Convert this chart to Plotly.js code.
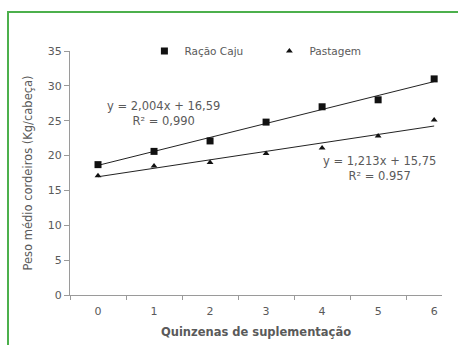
<!DOCTYPE html>
<html>
<head>
<meta charset="utf-8">
<script src="https://cdn.plot.ly/plotly-3.0.1.min.js"></script>
<style>
  html, body { margin: 0; padding: 0; background: #fff; }
  #frame { position: absolute; left: 7px; top: 11px; width: 520px; height: 420px; border: 2px solid #4cb04c; box-sizing: border-box; }
  #chart { position: absolute; left: 0; top: 0; width: 458px; height: 345px; }
</style>
</head>
<body>
<div id="frame"></div>
<div id="chart"></div>
<script>
// Data
const quinzenas = [0, 1, 2, 3, 4, 5, 6];
const racaoCaju = [18.7, 20.6, 22.1, 24.8, 27.0, 28.0, 31.0];
const pastagem  = [17.1, 18.5, 19.0, 20.3, 21.1, 22.8, 25.1];
const yTicks = [0, 5, 10, 15, 20, 25, 30, 35];
// Trendline coefficients as printed on the chart (Excel x = 1..7)
const racaoFit = { slope: 2.004, intercept: 16.59, label: 'y = 2,004x + 16,59<br>R² = 0,990' };
const pastFit  = { slope: 1.213, intercept: 15.75, label: 'y = 1,213x + 15,75<br>R² = 0.957' };

const trend = (fit) => quinzenas.map(q => fit.slope * (q + 1) + fit.intercept);

const textColor = '#5a5a5a';
const fam = 'DejaVu Sans, Verdana, sans-serif';
const font = { family: fam, size: 10, color: textColor };

const traces = [
  { x: quinzenas, y: trend(racaoFit), mode: 'lines', line: { color: '#222', width: 1 }, showlegend: false, hoverinfo: 'skip' },
  { x: quinzenas, y: trend(pastFit), mode: 'lines', line: { color: '#222', width: 1 }, showlegend: false, hoverinfo: 'skip' },
  { x: quinzenas, y: racaoCaju, mode: 'markers', name: 'Ração Caju',
    marker: { symbol: 'square', size: 7, color: '#111' } },
  { x: quinzenas, y: pastagem, mode: 'markers', name: 'Pastagem',
    marker: { symbol: 'triangle-up', size: 6, color: '#111' } },
  { x: [-0.5], y: [0], xaxis: 'x2', mode: 'markers', marker: { size: 0, opacity: 0 }, showlegend: false, hoverinfo: 'skip' }
];

const layout = {
  width: 458, height: 345,
  margin: { l: 70, r: 16, t: 51, b: 50 },
  paper_bgcolor: 'rgba(0,0,0,0)', plot_bgcolor: 'rgba(0,0,0,0)',
  font: font,
  showlegend: true,
  legend: { orientation: 'h', x: 0.2, y: 1, yanchor: 'middle', xanchor: 'left',
            font: { family: fam, size: 10.5, color: textColor },
            bgcolor: 'rgba(0,0,0,0)', entrywidth: 80, itemwidth: 30 },
  xaxis: {
    range: [-0.5, 6.14], tickmode: 'array', tickvals: quinzenas, ticktext: quinzenas.map(String),
    ticks: '', showgrid: false, zeroline: false, showline: true, linecolor: '#9a9a9a', linewidth: 1,
    tickfont: { family: fam, size: 11, color: textColor }, ticklabelstandoff: 6,
    title: { text: '<b>Quinzenas de suplementação</b>', font: { family: fam, size: 11.5, color: textColor }, standoff: 10 }
  },
  xaxis2: {
    overlaying: 'x', range: [-0.5, 6.14], tickmode: 'array', tickvals: [-0.5, 0.5, 1.5, 2.5, 3.5, 4.5, 5.5],
    showticklabels: false, ticks: 'outside', ticklen: 4, tickcolor: '#9a9a9a', showgrid: false, zeroline: false,
    anchor: 'y', side: 'bottom'
  },
  yaxis: {
    range: [0, 35], tickmode: 'array', tickvals: yTicks, ticks: 'outside', ticklen: 5, tickcolor: '#9a9a9a',
    showgrid: false, zeroline: false, showline: true, linecolor: '#9a9a9a', linewidth: 1,
    tickfont: { family: fam, size: 11, color: textColor },
    title: { text: 'Peso médio cordeiros (Kg/cabeça)', font: { family: fam, size: 11.5, color: textColor }, standoff: 12 }
  },
  annotations: [
    { x: 1.16, y: 26.0, xref: 'x', yref: 'y', text: racaoFit.label, showarrow: false, align: 'center',
      font: { family: fam, size: 11.5, color: textColor } },
    { x: 5.03, y: 18.1, xref: 'x', yref: 'y', text: pastFit.label, showarrow: false, align: 'center',
      font: { family: fam, size: 11.5, color: textColor } }
  ]
};

Plotly.newPlot('chart', traces, layout, { displayModeBar: false, staticPlot: true });
</script>
</body>
</html>
